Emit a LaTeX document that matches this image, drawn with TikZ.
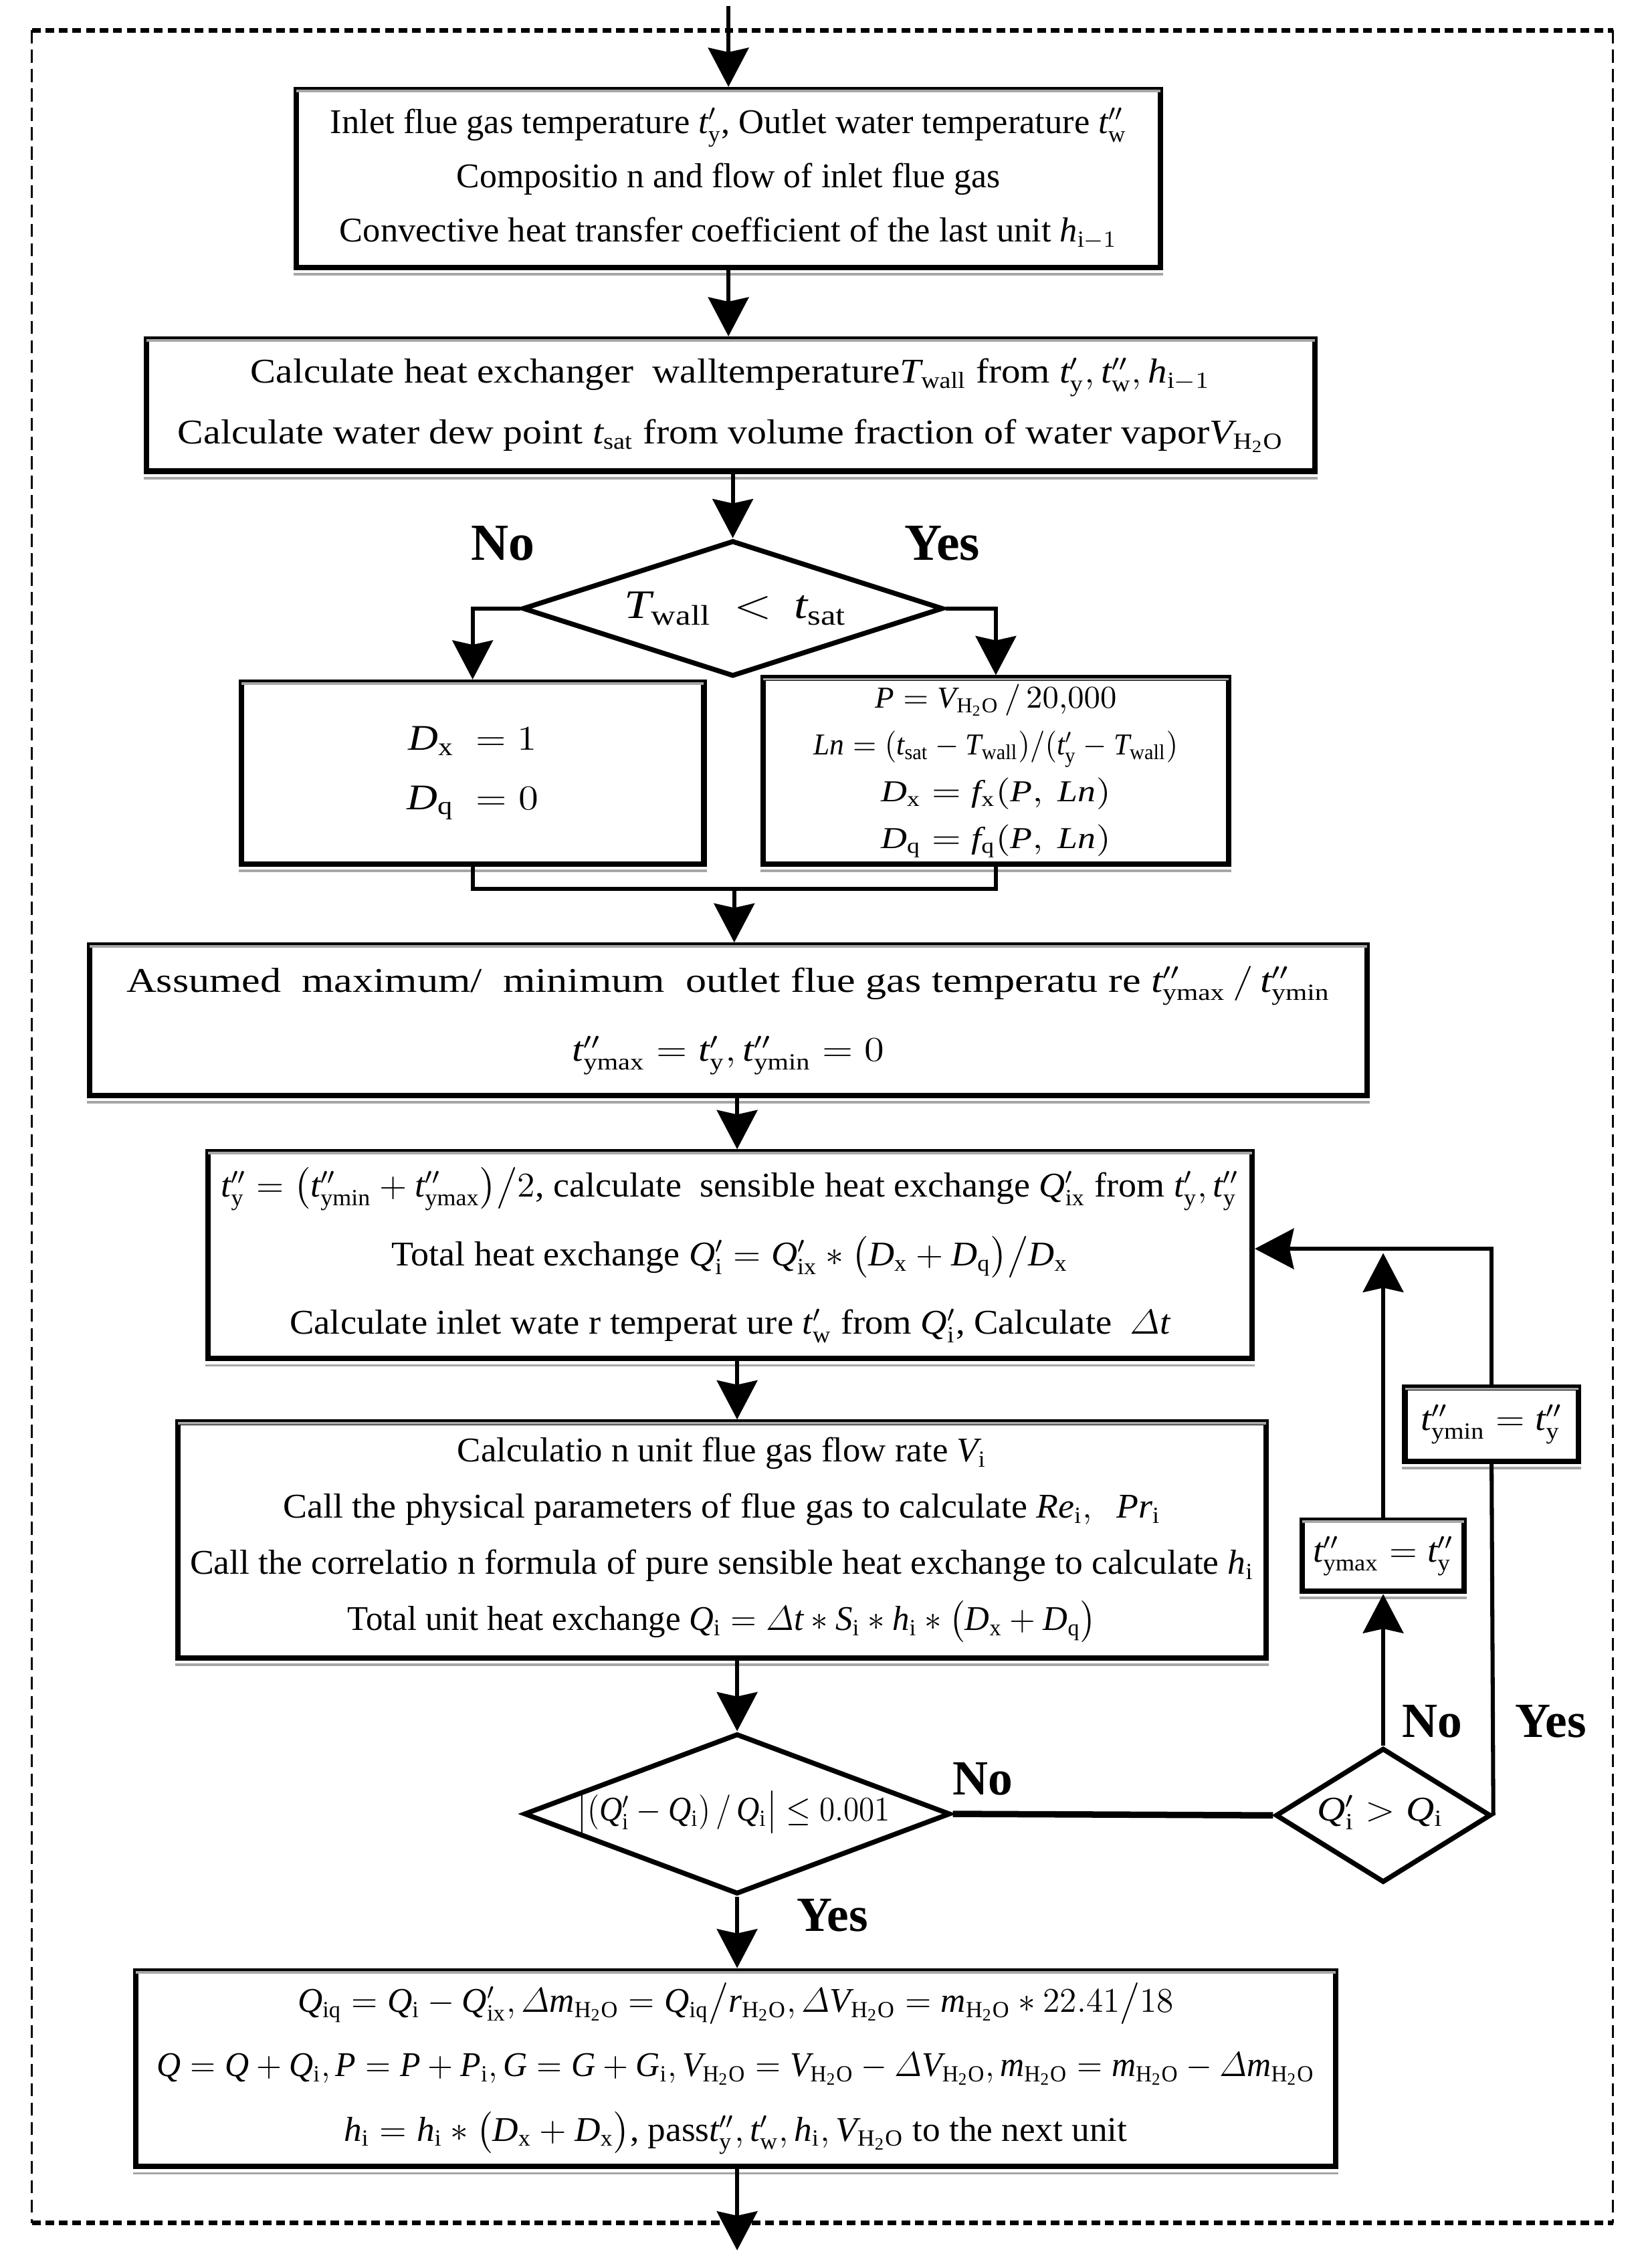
\documentclass[tikz,border=0pt]{standalone}
\usepackage{amsmath}
\usepackage{graphicx}
\usepackage{fontspec}
\setmainfont{Liberation Serif}
\DeclareSymbolFont{tletters}{TU}{\rmdefault}{m}{it}
\makeatletter
\def\tl@mk#1{\DeclareMathSymbol{#1}{\mathalpha}{tletters}{`#1}}
\@tfor\tl@c:=abcdefghijklmnopqrstuvwxyzABCDEFGHIJKLMNOPQRSTUVWXYZ\do{\expandafter\tl@mk\tl@c}
\makeatother
\usetikzlibrary{arrows.meta,shapes.geometric}
\newdimen\du \du=0.5pt
\newcommand\wl[2]{\resizebox{#1\du}{\height}{#2}}
\newcommand\R[1]{\mathrm{#1}}
\newcommand\HO{\mathrm{H_2O}}
\tikzset{
  box/.style={draw, line width=1.9pt, fill=white, inner sep=0pt, align=center, rectangle},
  dia/.style={draw, diamond, line width=1.7pt, fill=white, inner sep=0pt},
  conn/.style={line width=1.4pt},
  arr/.style={conn, -{Stealth[length=13.5pt,width=14pt,inset=1.5pt]}},
  lab/.style={font=\fontsize{17}{17}\selectfont\bfseries, inner sep=0pt},
  dtext/.style={inner sep=0pt},
  sideb/.style={line width=0.8pt, dash pattern=on 4.5pt off 2.2pt},
  topb/.style={line width=1.6pt, dash pattern=on 3pt off 1.7pt},
  shad/.style={line width=0.9pt, black!35},
}
\begin{document}
\begin{tikzpicture}[x=0.5pt,y=-0.5pt]
\useasboundingbox (0,0) rectangle (1137,1569.2);

% outer border
\coordinate (bTL) at (22,21);
\coordinate (bTR) at (1116,21);
\coordinate (bBL) at (22,1538);
\coordinate (bBR) at (1116,1538);
\draw[sideb] (bTL) -- (bBL);
\draw[sideb] (bTR) -- (bBR);
\draw[topb] (bTL) -- (bTR);
\draw[topb] (bBL) -- (bBR);

\coordinate (top) at (504,4);
\coordinate (ax) at (510,0);
\coordinate (jn) at (508,615);
\coordinate (fb) at (1032,864);
\coordinate (bot) at (510,1557);

% boxes
\node[box, minimum width=299pt, minimum height=61.5pt, font=\fontsize{12}{18.75}\selectfont] (b1) at (504,123.5)
{\wl{551}{Inlet flue gas temperature $t'_{\R{y}}$, Outlet water temperature $t''_{\R{w}}$}\\
 \wl{376}{Compositio n and flow of inlet flue gas}\\
 \wl{538}{Convective heat transfer coefficient of the last unit $h_{\R{i}-1}$}};

\node[box, minimum width=404.25pt, minimum height=45.7pt, font=\fontsize{12}{21}\selectfont] (b2) at (505.5,280.3)
{\wl{664}{Calculate heat exchanger\ \ walltemperature$T_{\R{wall}}$ from $t'_{\R{y}}, t''_{\R{w}}, h_{\R{i}-1}$}\\
 \wl{765}{Calculate water dew point $t_{\R{sat}}$ from volume fraction of water vapor$V_{\HO}$}};

\node[dia, minimum width=145.5pt, minimum height=47pt] (d1) at (507,421) {};
\node[dtext, font=\fontsize{14}{14}\selectfont] (d1t) at (509,421) {\wl{154}{$T_{\R{wall}}\,<\,t_{\R{sat}}$}};

\node[box, minimum width=160pt, minimum height=63pt, font=\fontsize{12.5}{20.5}\selectfont] (b3) at (327,535)
{\wl{89}{$D_{\R{x}}\ =1$}\\ \wl{91}{$D_{\R{q}}\ =0$}};

\node[box, minimum width=161pt, minimum height=64.5pt, font=\fontsize{10.5}{16.2}\selectfont] (b4) at (689,533.5)
{\wl{167}{$P=V_{\HO}\,/\,20{,}000$}\\
 \wl{252}{$Ln=(t_{\R{sat}}-T_{\R{wall}})/(t'_{\R{y}}-T_{\R{wall}})$}\\
 \wl{159}{$D_{\R{x}}=f_{\R{x}}(P,\ Ln)$}\\
 \wl{159}{$D_{\R{q}}=f_{\R{q}}(P,\ Ln)$}};

\node[box, minimum width=442pt, minimum height=52pt, font=\fontsize{12}{24}\selectfont] (b5) at (504,706)
{\wl{833}{Assumed\ \ maximum/\ \ minimum\ \ outlet flue gas\ temperatu re $t''_{\R{ymax}}\,/\,t''_{\R{ymin}}$}\\
 \wl{216}{$t''_{\R{ymax}}=t'_{\R{y}}, t''_{\R{ymin}}=0$}};

\node[box, minimum width=361.25pt, minimum height=71.5pt, font=\fontsize{12}{23.75}\selectfont] (b6) at (505,868.5)
{\wl{704}{$t''_{\R{y}}=\bigl(t''_{\R{ymin}}+t''_{\R{ymax}}\bigr)\big/2$, calculate\ \ sensible\ heat exchange $Q'_{\R{ix}}$ from $t'_{\R{y}},t''_{\R{y}}$}\\
 \wl{468}{Total heat\ exchange $Q'_{\R{i}}=Q'_{\R{ix}}*\bigl(D_{\R{x}}+D_{\R{q}}\bigr)\big/D_{\R{x}}$}\\
 \wl{609}{Calculate\ inlet wate r temperat ure $t'_{\R{w}}$ from $Q'_{\R{i}}$, Calculate\ \ $\varDelta t$}};

\node[box, minimum width=376.5pt, minimum height=81.5pt, font=\fontsize{12}{19.4}\selectfont] (b7) at (499.5,1065.5)
{\wl{366}{Calculatio n unit flue gas flow rate $V_{\R{i}}$}\\
 \wl{607}{Call the physical parameters of flue gas to calculate $Re_{\R{i}},\ \ Pr_{\R{i}}$}\\
 \wl{736}{Call the correlatio n formula of pure sensible heat exchange to calculate $h_{\R{i}}$}\\
 \wl{518}{Total unit heat exchange $Q_{\R{i}}=\varDelta t*S_{\R{i}}*h_{\R{i}}*\bigl(D_{\R{x}}+D_{\R{q}}\bigr)$}};

\node[dia, minimum width=147.5pt, minimum height=55.5pt] (d2) at (510,1255) {};
\node[dtext, font=\fontsize{12}{12}\selectfont] (d2t) at (507.5,1254) {\wl{217}{$\bigl|(Q'_{\R{i}}-Q_{\R{i}})\,/\,Q_{\R{i}}\bigr|\le 0.001$}};

\node[dia, minimum width=74.5pt, minimum height=46.5pt] (d3) at (957,1256) {};
\node[dtext, font=\fontsize{12}{12}\selectfont] (d3t) at (955,1254) {\wl{87}{$Q'_{\R{i}}>Q_{\R{i}}$}};

\node[box, minimum width=56pt, minimum height=24.5pt, font=\fontsize{12}{12}\selectfont] (b8) at (957,1076.5)
{\wl{97}{$t''_{\R{ymax}}=t''_{\R{y}}$}};
\node[box, minimum width=60pt, minimum height=25.5pt, font=\fontsize{12}{12}\selectfont] (b9) at (1032,985.5)
{\wl{98}{$t''_{\R{ymin}}=t''_{\R{y}}$}};

\node[box, minimum width=415pt, minimum height=67.7pt, font=\fontsize{12}{22.25}\selectfont] (b10) at (509,1431.3)
{\wl{606}{$Q_{\R{iq}}=Q_{\R{i}}-Q'_{\R{ix}},\varDelta m_{\HO}=Q_{\R{iq}}\big/r_{\HO},\varDelta V_{\HO}=m_{\HO}*22.41\big/18$}\\
 \wl{801}{$Q=Q+Q_{\R{i}},P=P+P_{\R{i}},G=G+G_{\R{i}},V_{\HO}=V_{\HO}-\varDelta V_{\HO},m_{\HO}=m_{\HO}-\varDelta m_{\HO}$}\\
 \wl{542}{$h_{\R{i}}=h_{\R{i}}*\bigl(D_{\R{x}}+D_{\R{x}}\bigr)$, pass$t''_{\R{y}},t'_{\R{w}},h_{\R{i}},V_{\HO}$ to the next\ unit}};

% light shadow under the top and bottom edges of the boxes
\foreach \n in {b1,b2,b3,b4,b5,b6,b7,b8,b9,b10}{
  \draw[shad] ([yshift=-1.4pt,xshift=1pt]\n.north west) -- ([yshift=-1.4pt,xshift=-1pt]\n.north east);
  \draw[shad] ([yshift=-1.4pt]\n.south west) -- ([yshift=-1.4pt]\n.south east);
}

% labels
\node[lab, font=\fontsize{18}{18}\selectfont\bfseries] (l1) at (348,376) {No};
\node[lab, font=\fontsize{18}{18}\selectfont\bfseries] (l2) at (652,376) {Yes};
\node[lab] (l3) at (680,1231) {No};
\node[lab] (l4) at (576,1325) {Yes};
\node[lab] (l5) at (991,1191) {No};
\node[lab] (l6) at (1073,1191) {Yes};

% connectors
\draw[arr] (top) -- (b1.north);
\draw[arr] (b1.south) -- (b1.south |- b2.north);
\draw[arr] (b2.south -| d1) -- (d1.north);
\draw[arr] (d1.west) -| (b3.north);
\draw[arr] (d1.east) -| (b4.north);
\draw[conn] (b3.south) |- (jn) -| (b4.south);
\draw[arr] (jn) -- (jn |- b5.north);
\draw[arr] (b5.south -| ax) -- (b6.north -| ax);
\draw[arr] (b6.south -| ax) -- (b7.north -| ax);
\draw[arr] (b7.south -| d2) -- (d2.north);
\draw[line width=2.2pt] (d2.east) -- (d3.west);
\draw[arr] (d2.south) -- (b10.north -| d2);
\draw[arr] (b10.south -| ax) -- (bot);
\draw[arr] (d3.north) -- (b8.south);
\draw[arr, shorten >=1.5pt] (b8.north) -- (b8.north |- fb);
\draw[conn] (d3.east) -- (b9.south);
\draw[arr] (b9.north) |- (b6.east |- fb);
\end{tikzpicture}
\end{document}
